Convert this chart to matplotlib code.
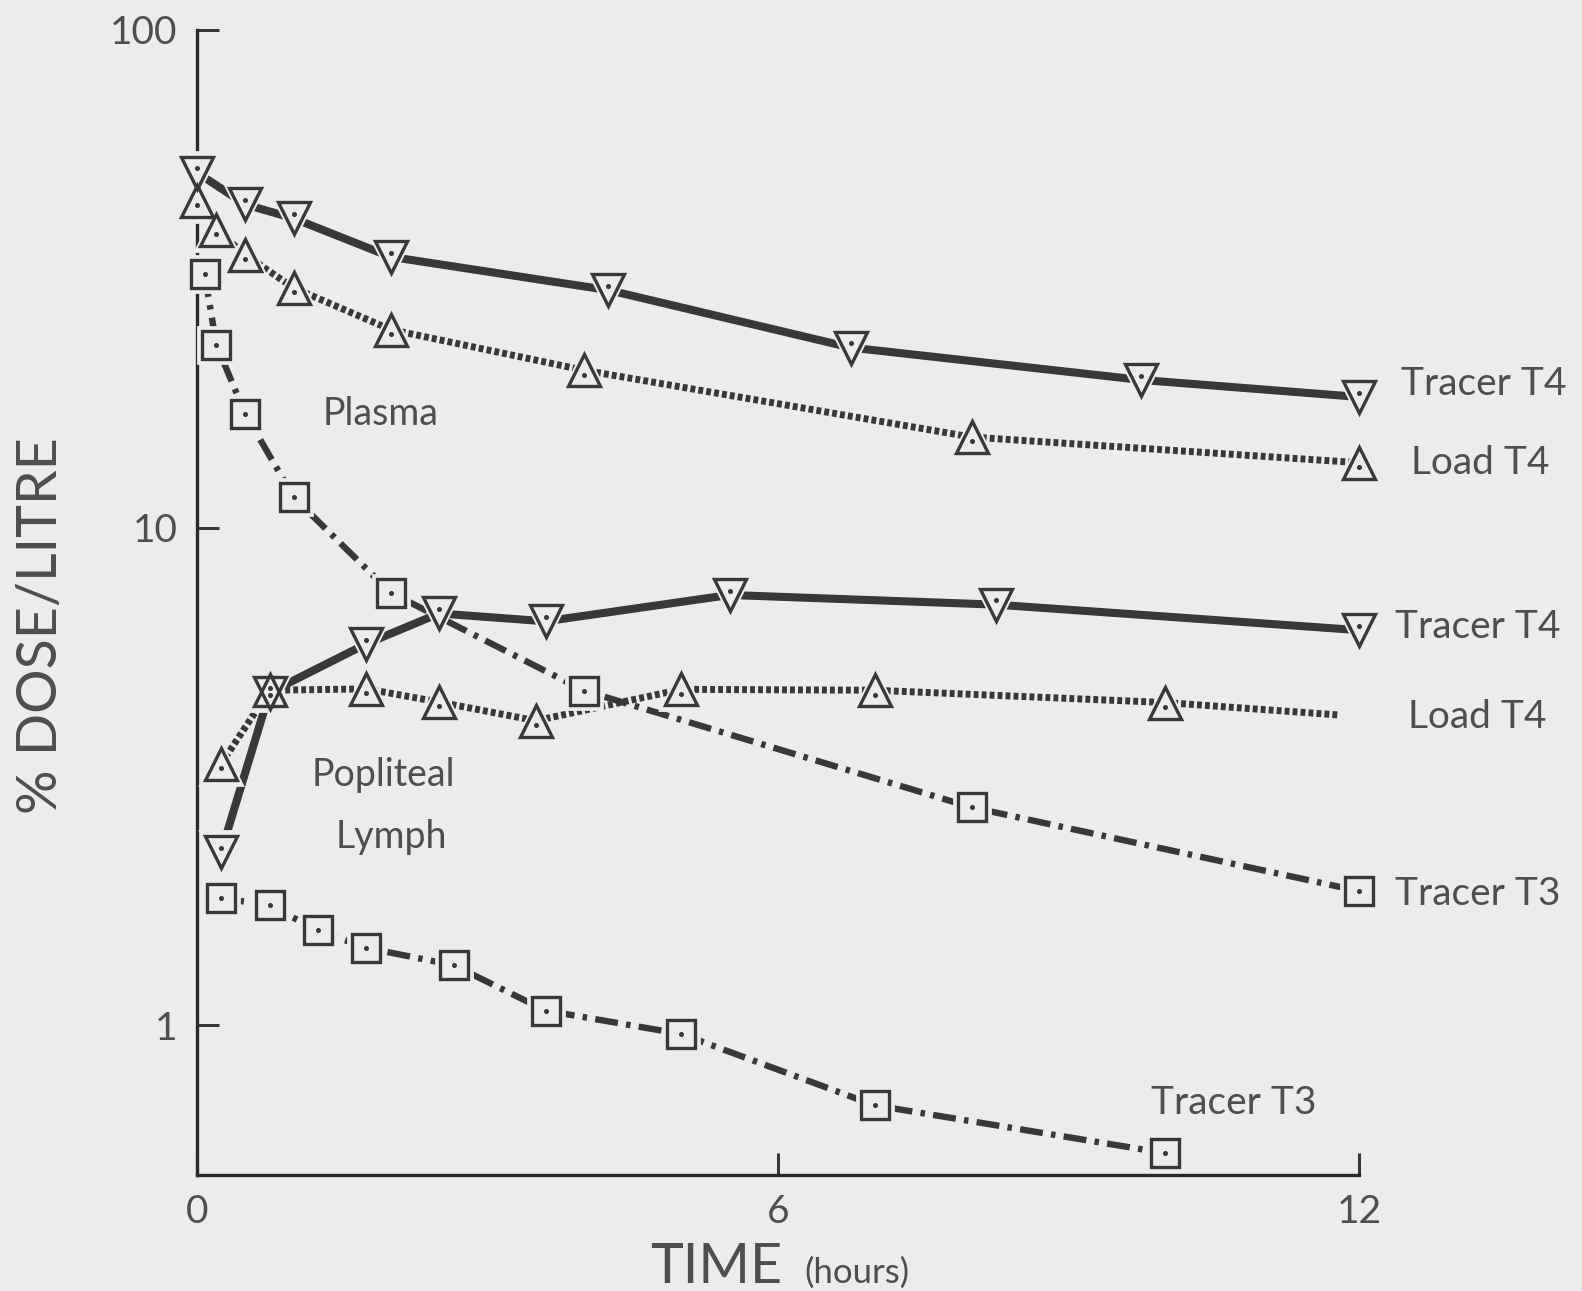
import matplotlib
matplotlib.use("Agg")
import matplotlib.pyplot as plt
from matplotlib.transforms import ScaledTranslation

plt.rcParams['font.family'] = ['Lato', 'DejaVu Sans']

# % dose per litre against time (hours)
plasma_tracer_t4_t = [0, 0.5, 1, 2, 4.25, 6.75, 9.75, 12]
plasma_tracer_t4 = [51.7, 44.6, 41.8, 35.0, 30.0, 23.0, 19.8, 18.3]
plasma_load_t4_t = [0, 0.2, 0.5, 1, 2, 4, 8, 12]
plasma_load_t4 = [45.4, 39.7, 35.3, 30.3, 25.0, 20.7, 15.2, 13.5]
plasma_tracer_t3_t = [0.08, 0.2, 0.5, 1, 2, 4, 8, 12]
plasma_tracer_t3 = [32.3, 23.3, 16.9, 11.5, 7.4, 4.7, 2.74, 1.86]

lymph_tracer_t4_t = [0.25, 0.75, 1.75, 2.5, 3.6, 5.5, 8.25, 12]
lymph_tracer_t4 = [2.23, 4.66, 5.84, 6.72, 6.48, 7.32, 7.0, 6.22]
lymph_load_t4_t = [0.25, 0.75, 1.75, 2.5, 3.5, 5, 7, 10, 11.8]
lymph_load_t4 = [3.35, 4.71, 4.74, 4.46, 4.09, 4.73, 4.71, 4.45, 4.2]
lymph_tracer_t3_t = [0.25, 0.75, 1.25, 1.75, 2.65, 3.6, 5, 7, 10]
lymph_tracer_t3 = [1.80, 1.74, 1.55, 1.43, 1.32, 1.07, 0.96, 0.69, 0.553]

x_ticks = [0, 6, 12]
y_ticks = [1, 10, 100]
y_tick_labels = ["1", "10", "100"]

BG = "#ececec"
INK = "#383838"
TXT = "#4e4e4e"

solid = dict(ls="-", lw=5.8)
dotted = dict(ls=(0, (0.7, 0.45)), lw=5.0)
dashdot = dict(ls=(0, (3.6, 1.3, 0.7, 1.3)), lw=4.6)

series = [
    # t, values, line style, marker, marker size, label, label offset (px), label align, marker count
    (plasma_tracer_t4_t, plasma_tracer_t4, solid, "v", 23, "Tracer T4", (42, 13), "left", None),
    (plasma_load_t4_t, plasma_load_t4, dotted, "^", 23, "Load T4", (52, 0), "left", None),
    (plasma_tracer_t3_t, plasma_tracer_t3, dashdot, "s", 19.5, "Tracer T3", (36, -3), "left", None),
    (lymph_tracer_t4_t, lymph_tracer_t4, solid, "v", 23, "Tracer T4", (36, 3), "left", None),
    (lymph_load_t4_t, lymph_load_t4, dotted, "^", 23, "Load T4", (68, -2), "left", 8),
    (lymph_tracer_t3_t, lymph_tracer_t3, dashdot, "s", 19.5, "Tracer T3", (68, 50), "center", None),
]

fig = plt.figure(figsize=(15.82, 12.91), dpi=100, facecolor=BG)
ax = fig.add_axes([0.1245, 0.0899, 0.859 - 0.1245, 0.9768 - 0.0899], facecolor=BG)

# lines first, then a background-coloured knock-out under each marker, then the markers
for t, v, style, mk, ms, label, off, ha, n in series:
    ax.plot(t, v, color=INK, lw=style["lw"], ls=style["ls"],
            dash_capstyle="butt", solid_capstyle="butt", zorder=2, clip_on=False)

for t, v, style, mk, ms, label, off, ha, n in series:
    tt, vv = t[:n], v[:n]
    ax.plot(tt, vv, ls="none", marker=mk, ms=ms + 7, mfc=BG, mec=BG, mew=2,
            zorder=3, clip_on=False)

for t, v, style, mk, ms, label, off, ha, n in series:
    tt, vv = t[:n], v[:n]
    ax.plot(tt, vv, ls="none", marker=mk, ms=ms, mfc="none", mec=INK, mew=2.4,
            zorder=4, clip_on=False)
    # little centre dot, nudged to the centroid for triangles
    dy = {"v": ms / 6.0, "^": -ms / 6.0, "s": 0.0}[mk] * 0.8
    tr = ax.transData + ScaledTranslation(0, dy / 72.0, fig.dpi_scale_trans)
    ax.plot(tt, vv, ls="none", marker="o", ms=2.6, mfc=INK, mec=INK, transform=tr,
            zorder=5, clip_on=False)
    ax.annotate(label, xy=(t[-1], v[-1]), xytext=off, textcoords="offset pixels",
                ha=ha, va="center", fontsize=28, color=TXT, annotation_clip=False)

ax.set_yscale("log")
ax.set_xlim(0, 12)
ax.set_ylim(0.5, 100)
ax.minorticks_off()
ax.set_xticks(x_ticks)
ax.set_xticklabels([str(x) for x in x_ticks])
ax.set_yticks(y_ticks)
ax.set_yticklabels(y_tick_labels)
ax.tick_params(direction="in", length=16, width=2.2, color=INK,
               labelsize=28, labelcolor=TXT)
ax.tick_params(axis="y", pad=14)
ax.tick_params(axis="x", pad=14)

for side in ["top", "right"]:
    ax.spines[side].set_visible(False)
for side in ["left", "bottom"]:
    ax.spines[side].set_linewidth(2.4)
    ax.spines[side].set_color("#2a2a2a")

fig.text(381 / 1582, 1 - 414 / 1291, "Plasma", fontsize=27, color=TXT, ha="center", va="center")
fig.text(383 / 1582, 1 - 775 / 1291, "Popliteal", fontsize=27, color=TXT, ha="center", va="center")
fig.text(391 / 1582, 1 - 837 / 1291, "Lymph", fontsize=27, color=TXT, ha="center", va="center")

fig.text(42 / 1582, 1 - 626 / 1291, "% DOSE/LITRE", rotation=90, fontsize=40,
         color=TXT, ha="center", va="center")
fig.text(782 / 1582, 1 - 1283 / 1291, "TIME", fontsize=40, color=TXT, ha="right", va="baseline")
fig.text(804 / 1582, 1 - 1283 / 1291, "(hours)", fontsize=25, color=TXT, ha="left", va="baseline")

plt.savefig("out.png", dpi=100, facecolor=BG)
